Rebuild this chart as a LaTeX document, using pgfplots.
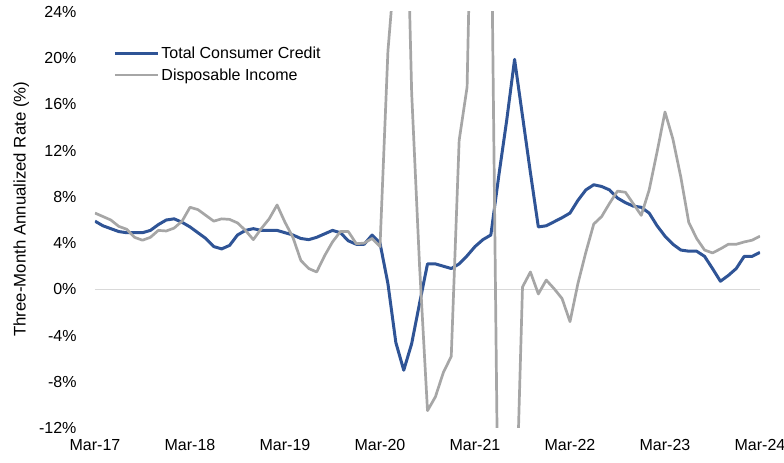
\documentclass[border=0pt]{standalone}
\usepackage{fontspec}
\setmainfont{Liberation Sans}
\usepackage{pgfplots}
\usepackage{pgfplotstable}
\pgfplotsset{compat=1.18}
\definecolor{tcc}{RGB}{47,84,150}
\definecolor{dinc}{RGB}{166,166,166}
\definecolor{zl}{RGB}{217,217,217}

\pgfplotstableread{
i blue gray
0 5.9 6.6
1 5.5 6.3
2 5.25 6.0
3 5.0 5.45
4 4.9 5.2
5 4.9 4.5
6 4.9 4.25
7 5.1 4.5
8 5.6 5.1
9 6.0 5.05
10 6.1 5.3
11 5.8 5.9
12 5.4 7.1
13 4.9 6.9
14 4.4 6.4
15 3.7 5.9
16 3.5 6.1
17 3.8 6.05
18 4.7 5.75
19 5.1 5.1
20 5.25 4.3
21 5.1 5.25
22 5.1 6.1
23 5.1 7.3
24 4.9 5.8
25 4.7 4.5
26 4.4 2.5
27 4.3 1.8
28 4.5 1.5
29 4.8 2.9
30 5.1 4.1
31 4.9 5.0
32 4.2 5.0
33 3.9 3.95
34 3.9 4.0
35 4.7 4.4
36 4.0 3.7
37 0.5 20.6
38 -4.6 29
39 -7.0 45
40 -4.7 17
41 -1.2 2
42 2.2 -10.5
43 2.2 -9.3
44 2.0 -7.2
45 1.8 -5.8
46 2.2 12.9
47 2.9 17.5
48 3.7 50
49 4.3 50
50 4.7 36.4
51 9.8 -25.6
52 14.6 -30
53 19.9 -24
54 15.0 0.2
55 10.1 1.5
56 5.4 -0.4
57 5.5 0.8
58 5.85 0.05
59 6.2 -0.8
60 6.6 -2.8
61 7.7 0.5
62 8.6 3.2
63 9.05 5.65
64 8.9 6.3
65 8.6 7.45
66 7.9 8.5
67 7.5 8.4
68 7.2 7.4
69 7.1 6.4
70 6.6 8.6
71 5.5 11.9
72 4.6 15.35
73 3.9 13.0
74 3.4 9.7
75 3.3 5.8
76 3.3 4.4
77 2.85 3.4
78 1.8 3.15
79 0.7 3.5
80 1.2 3.9
81 1.8 3.9
82 2.85 4.1
83 2.85 4.25
84 3.2 4.6
}\datatable

\begin{document}
\begin{tikzpicture}[font=\fontsize{16bp}{19bp}\selectfont]
\useasboundingbox (-95bp,-35bp) rectangle (689bp,428bp);
\begin{axis}[
  scale only axis, width=665bp, height=416bp,
  at={(0,0)}, anchor=south west,
  xmin=0, xmax=84, ymin=-12, ymax=24,
  axis line style={draw=none},
  major tick length=0pt,
  xtick={0,12,24,36,48,60,72,84},
  xticklabels={Mar-17,Mar-18,Mar-19,Mar-20,Mar-21,Mar-22,Mar-23,Mar-24},
  ytick={-12,-8,-4,0,4,8,12,16,20,24},
  yticklabels={-12\%,-8\%,-4\%,0\%,4\%,8\%,12\%,16\%,20\%,24\%},
  tick label style={font=\fontsize{16bp}{19bp}\selectfont},
  yticklabel shift=15bp,
  xticklabel shift=8bp,
  ylabel={Three-Month Annualized Rate (\%)},
  every axis y label/.style={at={(axis description cs:-0.111,0.526)}, anchor=center, rotate=90, font=\fontsize{16.8bp}{20bp}\selectfont},
  legend style={at={(axis description cs:0.023,0.925)}, anchor=north west, draw=none, fill=none, font=\fontsize{16bp}{19bp}\selectfont, row sep=4bp},
  legend cell align=left,
  legend image code/.code={\draw[#1] (0bp,0bp) -- (43bp,0bp);},
]
\addplot[zl, line width=1.2bp, forget plot] coordinates {(0,0) (84,0)};
\addplot[tcc, line width=3bp, line join=round] table[x=i, y=blue] {\datatable};
\addlegendentry{Total Consumer Credit}
\addplot[dinc, line width=2.7bp, line join=round] table[x=i, y=gray] {\datatable};
\addlegendentry{Disposable Income}
\end{axis}
\end{tikzpicture}
\end{document}
